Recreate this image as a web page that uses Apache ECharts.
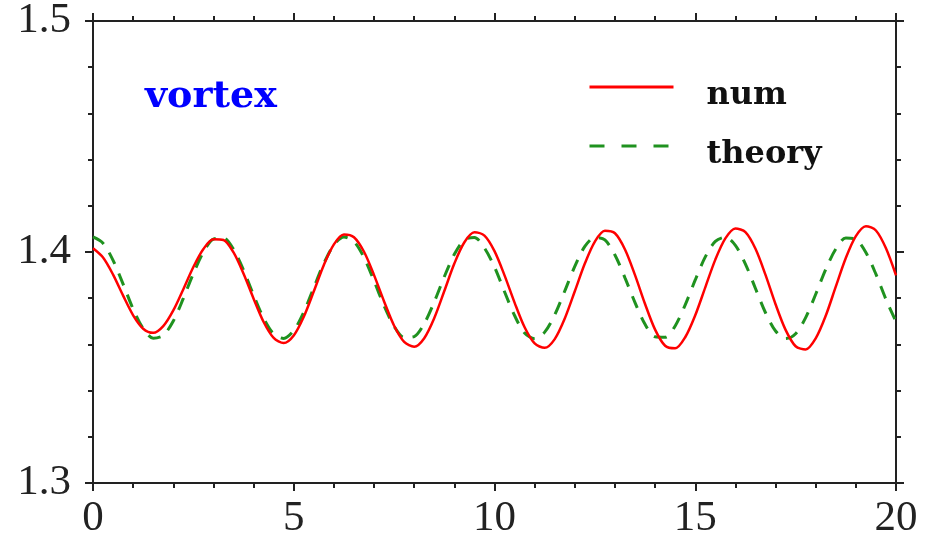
<!DOCTYPE html>
<html>
<head>
<meta charset="utf-8">
<script src="https://cdn.jsdelivr.net/npm/echarts@6/dist/echarts.min.js"></script>
<style>
html,body{margin:0;padding:0;background:#fff;}
#chart{width:930px;height:540px;}
</style>
</head>
<body>
<div id="chart"></div>
<script>
// sample positions along x
const xs = [0,0.25,0.5,0.75,1,1.25,1.5,1.75,2,2.25,2.5,2.75,3,3.25,3.5,3.75,4,4.25,4.5,4.75,
  5,5.25,5.5,5.75,6,6.25,6.5,6.75,7,7.25,7.5,7.75,8,8.25,8.5,8.75,9,9.25,9.5,9.75,
  10,10.25,10.5,10.75,11,11.25,11.5,11.75,12,12.25,12.5,12.75,13,13.25,13.5,13.75,14,14.25,14.5,14.75,
  15,15.25,15.5,15.75,16,16.25,16.5,16.75,17,17.25,17.5,17.75,18,18.25,18.5,18.75,19,19.25,19.5,19.75,20];

// "num" curve values
const numVals = [1.4016,1.3976,1.3902,1.3811,1.3726,1.3668,1.3650,1.3679,1.3747,1.3839,
  1.3935,1.4013,1.4055,1.4052,1.3998,1.3906,1.3798,1.3697,1.3628,1.3606,
  1.3639,1.3720,1.3830,1.3944,1.4033,1.4076,1.4064,1.4001,1.3900,1.3786,
  1.3681,1.3611,1.3590,1.3627,1.3714,1.3831,1.3950,1.4042,1.4085,1.4071,
  1.4004,1.3899,1.3781,1.3674,1.3604,1.3585,1.3623,1.3712,1.3830,1.3950,
  1.4045,1.4092,1.4081,1.4011,1.3900,1.3775,1.3664,1.3594,1.3583,1.3631,
  1.3726,1.3847,1.3967,1.4059,1.4102,1.4086,1.4014,1.3901,1.3774,1.3663,
  1.3592,1.3578,1.3626,1.3724,1.3850,1.3974,1.4069,1.4112,1.4093,1.4016,1.3899];

// "theory" curve values
const theoryVals = [1.4065,1.4038,1.3964,1.3861,1.3753,1.3669,1.3627,1.3639,1.3701,1.3799,
  1.3907,1.3999,1.4056,1.4060,1.4011,1.3921,1.3813,1.3713,1.3645,1.3626,
  1.3660,1.3740,1.3846,1.3951,1.4031,1.4065,1.4045,1.3976,1.3875,1.3767,
  1.3678,1.3630,1.3634,1.3690,1.3784,1.3893,1.3990,1.4053,1.4063,1.4017,
  1.3935,1.3828,1.3725,1.3649,1.3625,1.3653,1.3728,1.3831,1.3938,1.4024,
  1.4063,1.4052,1.3987,1.3888,1.3781,1.3687,1.3633,1.3631,1.3680,1.3771,
  1.3879,1.3979,1.4046,1.4064,1.4029,1.3948,1.3842,1.3737,1.3658,1.3625,
  1.3646,1.3716,1.3817,1.3925,1.4013,1.4061,1.4055,1.3998,1.3904,1.3795,1.3698];

const seriesNames = ['num', 'theory'];
const xTickLabels = ['0', '5', '10', '15', '20'];
const yTickLabels = ['1.3', '1.4', '1.5'];
const annotation = 'vortex';

const numData = xs.map((x, i) => [x, numVals[i]]);
const theoryData = xs.map((x, i) => [x, theoryVals[i]]);

const axisColor = '#222';
const labelFont = 'Liberation Serif';
const red = '#ff0000';
const green = '#1f921f';

function xAxisCfg(pos, showLabel) {
  return {
    type: 'value', position: pos, min: 0, max: 20, interval: 5,
    axisLine: { show: true, onZero: false, lineStyle: { color: axisColor, width: 2 } },
    axisTick: { show: true, inside: false, length: 8, lineStyle: { color: axisColor, width: 2 } },
    minorTick: { show: true, splitNumber: 5, length: 5, lineStyle: { color: axisColor, width: 2 } },
    splitLine: { show: false },
    axisLabel: {
      show: showLabel, margin: 14, color: '#222', fontFamily: labelFont, fontSize: 43,
      formatter: function (v) { return xTickLabels[Math.round(v / 5)]; }
    }
  };
}
function yAxisCfg(pos, showLabel) {
  return {
    type: 'value', position: pos, min: 1.3, max: 1.5, interval: 0.1,
    axisLine: { show: true, onZero: false, lineStyle: { color: axisColor, width: 2 } },
    axisTick: { show: true, inside: false, length: 8, lineStyle: { color: axisColor, width: 2 } },
    minorTick: { show: true, splitNumber: 5, length: 5, lineStyle: { color: axisColor, width: 2 } },
    splitLine: { show: false },
    axisLabel: {
      show: showLabel, margin: 22, color: '#222', fontFamily: labelFont, fontSize: 43,
      formatter: function (v) { return yTickLabels[Math.round((v - 1.3) / 0.1)]; }
    }
  };
}

const chart = echarts.init(document.getElementById('chart'), null, { renderer: 'canvas' });
chart.setOption({
  animation: false,
  backgroundColor: '#fff',
  grid: { left: 93, right: 34, top: 21, bottom: 57, containLabel: false, outerBoundsMode: 'none' },
  title: {
    text: annotation, left: 145, top: 78, padding: 0,
    textStyle: { color: '#0000ff', fontFamily: 'DejaVu Serif', fontWeight: 'bold', fontSize: 38 }
  },
  legend: {
    data: [
      { name: seriesNames[0], lineStyle: { width: 3, color: red, type: 'solid' } },
      { name: seriesNames[1], lineStyle: { width: 3, color: green, type: [15, 17] } }
    ],
    orient: 'vertical', left: 588, top: 62, padding: 0,
    itemWidth: 84, itemHeight: 14, itemGap: 9,
    itemStyle: { opacity: 0 },
    formatter: function (name) { return '{t|' + name + '}'; },
    textStyle: {
      color: '#111', fontFamily: 'DejaVu Serif', fontWeight: 'bold', fontSize: 32,
      rich: {
        t: { color: '#111', fontFamily: 'DejaVu Serif', fontWeight: 'bold', fontSize: 32,
          lineHeight: 36, padding: [18, 0, 0, 28] }
      }
    }
  },
  xAxis: [xAxisCfg('bottom', true), xAxisCfg('top', false)],
  yAxis: [yAxisCfg('left', true), yAxisCfg('right', false)],
  series: [
    {
      name: seriesNames[0], type: 'line', data: numData, xAxisIndex: 0, yAxisIndex: 0,
      showSymbol: false, symbol: 'none', smooth: 0.3, z: 3,
      lineStyle: { color: red, width: 2.5 }, itemStyle: { color: red }
    },
    {
      name: seriesNames[1], type: 'line', data: theoryData, xAxisIndex: 0, yAxisIndex: 0,
      showSymbol: false, symbol: 'none', smooth: 0.3, z: 2,
      lineStyle: { color: green, width: 3, type: [13, 10] }, itemStyle: { color: green }
    }
  ]
});
</script>
</body>
</html>
